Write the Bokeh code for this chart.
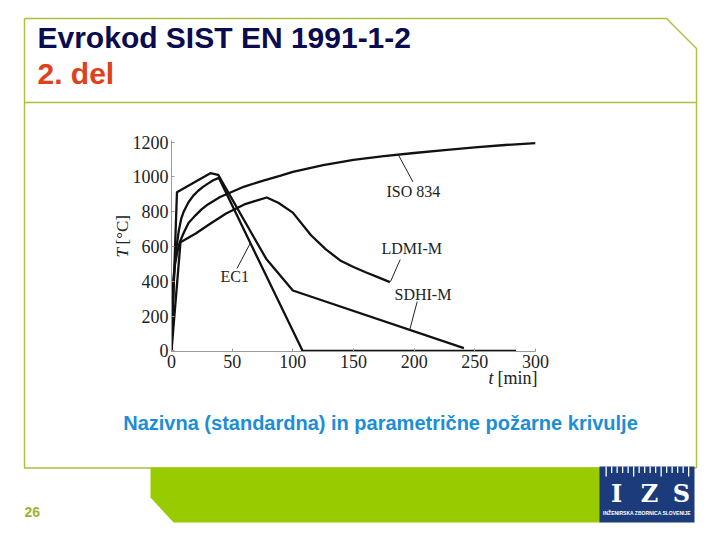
from bokeh.plotting import figure
from bokeh.models import Range1d, FixedTicker
from bokeh.embed import file_html
from bokeh.resources import INLINE
from bokeh.core.properties import value
import math

# ---------------- data ----------------
iso_t = [0, 1, 2, 3, 5, 7, 10, 14, 20, 25, 30, 40, 50, 60, 75, 90, 100, 125, 150, 175, 200, 225, 250, 275, 300]
iso_T = [20, 349, 445, 502, 576, 628, 678, 735, 781, 815, 842, 885, 915, 945, 978, 1008, 1030, 1068, 1098, 1120, 1138, 1155, 1170, 1184, 1195]

ec1_t = [0, 1, 2, 3, 4, 6, 8, 10, 14, 18, 22, 26, 30, 34, 39, 108, 284]
ec1_T = [0, 250, 420, 520, 590, 690, 760, 800, 855, 893, 921, 943, 962, 980, 995, 0, 0]

ldmi_t = [0, 7.4, 20, 30, 45, 60, 70, 78.5, 88, 100, 115, 127, 139, 150, 160, 170, 180]
ldmi_T = [0, 624, 675, 722, 790, 842, 864, 882, 852, 795, 665, 585, 520, 482, 452, 424, 395]

sdhi_t = [0, 4.5, 32, 38.5, 78, 100, 241]
sdhi_T = [0, 912, 1022, 1012, 530, 347, 15]

x_ticks = [0, 50, 100, 150, 200, 250, 300]
y_ticks = [0, 200, 400, 600, 800, 1000, 1200]

curve_names = ["ISO 834", "LDMI-M", "SDHI-M", "EC1"]

title_1 = "Evrokod SIST EN 1991-1-2"
title_2 = "2. del"
caption = "Nazivna (standardna) in parametrične požarne krivulje"
page_no = "26"
logo_letters = ["I", "Z", "S"]
logo_text = "INŽENIRSKA ZBORNICA SLOVENIJE"

W, H = 720, 540
SERIF = "Liberation Serif"
SANS = "Liberation Sans"

# ---------------- background figure: slide in page pixels ----------------
bg = figure(width=W, height=H, output_backend="svg", toolbar_location=None,
            x_range=Range1d(0, W), y_range=Range1d(H, 0),
            x_axis_location=None, y_axis_location=None, min_border=0)
bg.outline_line_color = None
bg.grid.visible = False
bg.background_fill_color = "white"
bg.border_fill_color = "white"

FRAME = "#a9c13f"
bg.line([24, 666, 696, 696], [18, 18, 48, 467.5], line_color=FRAME, line_width=1.4)
bg.line([24, 24, 696], [18, 467.5, 467.5], line_color=FRAME, line_width=1.4)
bg.line([24, 696], [102, 102], line_color=FRAME, line_width=1.4)
# green bar
bg.patch([150, 600, 600, 173, 150], [467, 467, 522, 522, 497],
         fill_color="#99cc00", line_color=None)
# logo
bg.quad(left=[599], right=[694], top=[466], bottom=[522], fill_color="#1b3b7b", line_color=None)
tick_x = [605 + i * 5.5 for i in range(16)]
tick_len = [10 if i % 5 == 0 else 6.5 for i in range(16)]
bg.quad(left=tick_x, right=[x + 1.3 for x in tick_x], top=[466] * 16,
        bottom=[466 + L for L in tick_len], fill_color="white", line_color=None)
bg.text(x=[616, 649, 681], y=[493] * 3, text=logo_letters,
        text_font=value("DejaVu Serif"), text_font_style="bold",
        text_font_size=value("24px"), text_color="white", text_align="center",
        text_baseline="middle")
bg.text(x=[646.5], y=[512], text=[logo_text], text_font=value(SANS),
        text_font_style="bold", text_font_size=value("5px"), text_color="white",
        text_align="center", text_baseline="middle")

# titles, caption, page number
bg.text(x=[37], y=[37], text=[title_1], text_font=value(SANS), text_font_style="bold",
        text_font_size=value("30px"), text_color="#0b0b50", text_baseline="middle")
bg.text(x=[37], y=[73], text=[title_2], text_font=value(SANS), text_font_style="bold",
        text_font_size=value("30px"), text_color="#e2401a", text_baseline="middle")
bg.text(x=[380], y=[422], text=[caption], text_font=value(SANS), text_font_style="bold",
        text_font_size=value("20px"), text_color="#1b8ed6", text_align="center",
        text_baseline="middle")
bg.text(x=[24], y=[511], text=[page_no], text_font=value(SANS), text_font_style="bold",
        text_font_size=value("14px"), text_color="#95b634", text_baseline="middle")

# chart annotations (page pixels)
bg.text(x=[386, 381, 394, 220], y=[191, 248, 294, 276], text=curve_names,
        text_font=value(SERIF), text_font_size=value("16px"), text_color="#222222",
        text_baseline="middle")
bg.text(x=[488], y=[377], text=["t"], text_font=value(SERIF), text_font_style="italic",
        text_font_size=value("18px"), text_color="#222222", text_baseline="middle")
bg.text(x=[537], y=[377], text=["[min]"], text_font=value(SERIF),
        text_font_size=value("18px"), text_color="#222222", text_baseline="middle",
        text_align="right")
bg.text(x=[122], y=[257], text=["T"], text_font=value(SERIF), text_font_style="italic",
        text_font_size=value("17px"), text_color="#222222", text_baseline="middle",
        angle=math.pi / 2)
bg.text(x=[122], y=[244], text=["[°C]"], text_font=value(SERIF),
        text_font_size=value("17px"), text_color="#222222", text_baseline="middle",
        angle=math.pi / 2)

# ---------------- chart figure (transparent, laid over the slide) ----------------
p = figure(width=W, height=H, output_backend="svg", toolbar_location=None,
           x_range=Range1d(0, 300), y_range=Range1d(-4, 1210),
           min_border_left=171, min_border_right=185,
           min_border_top=140, min_border_bottom=189,
           styles={"position": "absolute", "left": "0px", "top": "0px"})
p.outline_line_color = None
p.background_fill_color = None
p.border_fill_color = None
p.grid.visible = False

for ax in (p.xaxis[0], p.yaxis[0]):
    ax.axis_line_color = "#9a9a9a"
    ax.axis_line_width = 1
    ax.major_tick_line_color = "#9a9a9a"
    ax.major_tick_in = 3
    ax.major_tick_out = 0
    ax.minor_tick_line_color = None
    ax.major_label_text_font = SERIF
    ax.major_label_text_font_size = "18px"
    ax.major_label_text_color = "#222222"
    ax.major_label_standoff = 3
p.xaxis.ticker = FixedTicker(ticks=x_ticks)
p.yaxis.ticker = FixedTicker(ticks=y_ticks)

for tt, TT in [(iso_t, iso_T), (ec1_t, ec1_T), (ldmi_t, ldmi_T), (sdhi_t, sdhi_T)]:
    p.line(tt, TT, line_color="#111111", line_width=2.3)

# leader lines (chart units)
leaders = [((187, 1127), (199, 972)),
           ((180.5, 398), (188.5, 525)),
           ((196.4, 122), (202.5, 283)),
           ((65, 620), (54, 474))]
for (a, b) in leaders:
    p.line([a[0], b[0]], [a[1], b[1]], line_color="#222222", line_width=1)

open("out.html", "w").write(file_html([bg, p], INLINE))
